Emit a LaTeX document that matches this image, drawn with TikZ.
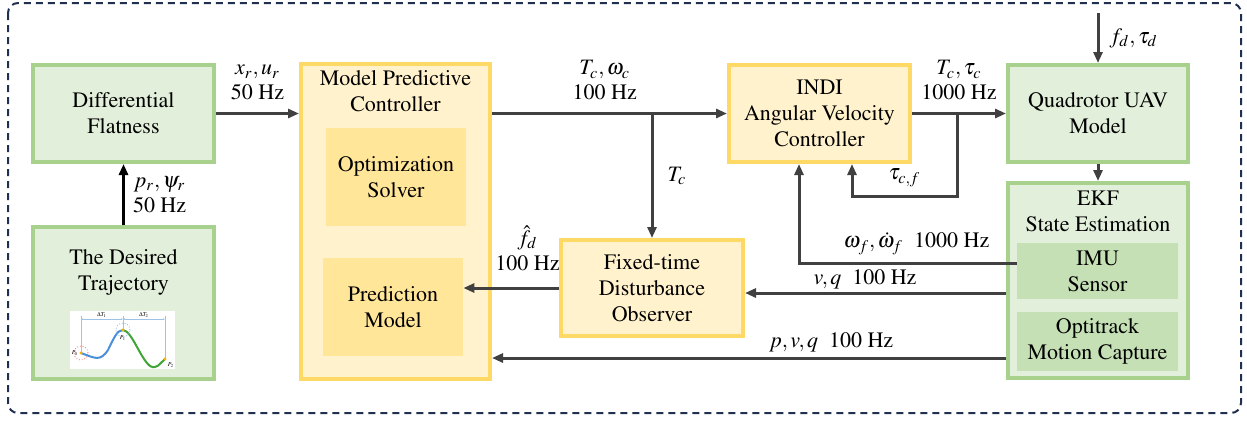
\documentclass[tikz,border=0pt]{standalone}
\usepackage[T1]{fontenc}
\usepackage{mathptmx}
\usetikzlibrary{positioning,arrows.meta}
\definecolor{gfill}{HTML}{E2EFDA}
\definecolor{gline}{HTML}{A9D18E}
\definecolor{ginner}{HTML}{C5E0B4}
\definecolor{yfill}{HTML}{FFF2CC}
\definecolor{yline}{HTML}{FFD966}
\definecolor{yinner}{HTML}{FFE699}
\definecolor{sigcol}{HTML}{404040}
\definecolor{framecol}{HTML}{1F3050}
\definecolor{dimblue}{HTML}{9DC3E6}
\definecolor{curveblue}{HTML}{4A90D9}
\definecolor{curvegreen}{HTML}{3FA535}
\definecolor{ptorange}{HTML}{F5B000}
\newcommand{\boxfont}{\fontsize{11}{13}\selectfont}
\newcommand{\lblfont}{\fontsize{11}{12.5}\selectfont}
\newcommand{\imgfont}{\fontsize{3}{3}\selectfont}

\begin{document}
\begin{tikzpicture}[
x=0.5pt,
y=-0.5pt,
gbox/.style={
  draw=gline,
  fill=gfill,
  line width=2pt,
  align=center,
  font=\boxfont
  },
ybox/.style={
  draw=yline,
  fill=yfill,
  line width=2pt,
  align=center,
  font=\boxfont
  },
gin/.style={
  fill=ginner,
  align=center,
  font=\boxfont,
  minimum width=80.5pt,
  minimum height=28pt
  },
yin/.style={
  fill=yinner,
  align=center,
  font=\boxfont,
  minimum width=70pt,
  minimum height=49pt
  },
title/.style={
  align=center,
  inner sep=0pt,
  font=\boxfont
  },
lbl/.style={
  align=center,
  inner sep=2pt,
  font=\lblfont
  },
sig/.style={
  draw=sigcol,
  line width=1.5pt,
  ->
  },
>={Triangle[length=5.5pt,width=4.5pt]}
]
\useasboundingbox (0,0) rectangle (1247,420);
\draw[framecol, line width=1pt, dash pattern=on 3.5pt off 2.5pt, rounded corners=5pt]
  (8,3) rectangle (1241,413);

% blocks
\node[gbox, minimum width=90.5pt, minimum height=48.5pt] (df) at (123.5,113.5) {Differential\\Flatness};
\node[gbox, minimum width=90.5pt, minimum height=76pt] (traj) at (123.5,303) {};
\node[title, below=12pt of traj.north] (trajtitle) {The Desired\\Trajectory};
\node[ybox, minimum width=94.5pt, minimum height=157.5pt] (mpc) at (395.5,221.5) {};
\node[title, below=4pt of mpc.north] (mpctitle) {Model Predictive\\Controller};
\node[yin] (opt) at (396,177) {Optimization\\Solver};
\node[yin] (pred) at (393,307) {Prediction\\Model};
\node[ybox, minimum width=91pt, minimum height=48pt] (fxtdo) at (652,288) {Fixed-time\\Disturbance\\Observer};
\node[ybox, minimum width=90.5pt, minimum height=48.5pt] (indi) at (819.5,113.5) {INDI\\Angular Velocity\\Controller};
\node[gbox, minimum width=90pt, minimum height=48.5pt] (quad) at (1098,113.5) {Quadrotor UAV\\Model};
\node[gbox, minimum width=90pt, minimum height=97.5pt] (ekf) at (1098,280.5) {};
\node[title, below=5pt of ekf.north] (ekftitle) {EKF\\State Estimation};
\node[gin] (imu) at (1097.5,271) {IMU\\Sensor};
\node[gin] (opti) at (1097.5,341) {Optitrack\\Motion Capture};

% trajectory sketch
\node[fill=white, minimum width=52.5pt, minimum height=29pt, inner sep=0pt] (trajimg) at (122.5,340) {};
\draw[dimblue, line width=0.3pt] (81,316) -- (81,353) (123,316) -- (123,330) (165,316) -- (165,359);
\draw[dimblue, line width=0.3pt, {Stealth[length=1pt]}-{Stealth[length=1pt]}] (81,319) -- (123,319);
\draw[dimblue, line width=0.3pt, {Stealth[length=1pt]}-{Stealth[length=1pt]}] (123,319) -- (165,319);
\node[font=\imgfont, inner sep=0.5pt, above] (dt1) at (102,319) {$\Delta T_1$};
\node[font=\imgfont, inner sep=0.5pt, above] (dt2) at (144,319) {$\Delta T_2$};
\draw[curveblue, line width=1pt] (81,353) .. controls (95,358) and (100,362) .. (108,350)
  .. controls (114,338) and (117,330) .. (123,330);
\draw[curvegreen, line width=1pt] (123,330) .. controls (132,331) and (140,358) .. (150,366)
  .. controls (157,370) and (160,363) .. (165,359);
\draw[red!60, line width=0.4pt, densely dotted] (81,353) circle (3.5pt);
\draw[curveblue!70, line width=0.4pt, densely dotted] (123,330) circle (3.5pt);
\foreach \px/\py in {81/353,123/330,165/359}
  \fill[ptorange] (\px,\py) circle (0.8pt);
\node[font=\imgfont, inner sep=0pt] (p0) at (75,353) {$P_0$};
\node[font=\imgfont, inner sep=0pt] (p1) at (123,338) {$P_1$};
\node[font=\imgfont, inner sep=0pt] (p2) at (171,365) {$P_2$};

% signals
\draw[sig, draw=black] (traj) -- node[lbl, right=2pt] (lpr) {$p_r,\psi_r$\\50 Hz} (df);
\draw[sig] (df.east) -- node[lbl, above=4pt] (lxu) {$x_r,u_r$\\50 Hz} (df -| mpc.west);
\draw[sig] (mpc.east |- indi.west) -- node[lbl, above=4pt, pos=0.48] (ltw) {$T_c,\omega_c$\\100 Hz} (indi.west);
\coordinate (brtc) at (fxtdo.north |- indi.west);
\draw[sig] (brtc) -- node[lbl, right=5pt] (ltc) {$T_c$} (fxtdo.north);
\draw[sig] (fxtdo.west) -- node[lbl, above=6pt, pos=0.33] (lfd) {$\hat{f}_d$\\100 Hz} (pred.east |- fxtdo.west);
\draw[sig] (indi.east) -- node[lbl, above=4pt] (ltt) {$T_c,\tau_c$\\1000 Hz} (quad.west);
\coordinate (tsplit) at (957,113.5);
\coordinate (tcorner) at (957,196);
\draw[sig] (tsplit) -- (tcorner) -| node[lbl, above=2pt, pos=0.25] (ltf) {$\tau_{c,f}$} ([xshift=16.25pt]indi.south);
\coordinate (fdin) at (1098,13);
\draw[sig] (fdin) -- node[lbl, right=3pt] (lfdt) {$f_d,\tau_d$} (quad.north);
\draw[sig] (quad) -- (ekf);
\draw[sig] ([yshift=4pt]imu.west) -| node[lbl, above=1.5pt, pos=0.23] (lom) {$\omega_f,\dot{\omega}_f$~~1000 Hz} ([xshift=-10.25pt]indi.south);
\coordinate (vqend) at ([yshift=-2.5pt]fxtdo.east);
\draw[sig] (vqend -| ekf.west) -- node[lbl, above=-1pt, pos=0.54] (lvq) {$v,q$~~100 Hz} (vqend);
\coordinate (pvq) at (0,358);
\draw[sig] (pvq -| ekf.west) -- node[lbl, above=0pt, pos=0.34] (lpvq) {$p,v,q$~~100 Hz} (pvq -| mpc.east);
\end{tikzpicture}
\end{document}
